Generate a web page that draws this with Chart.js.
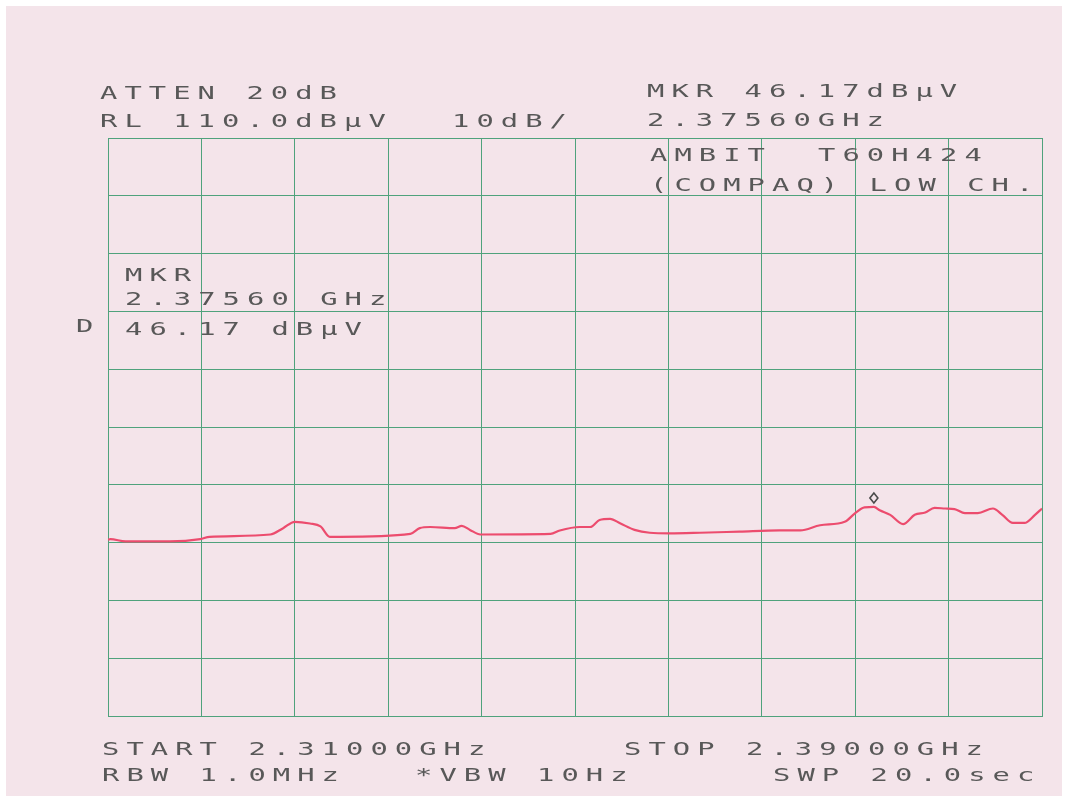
<!DOCTYPE html>
<html>
<head>
<meta charset="utf-8">
<script src="https://cdn.jsdelivr.net/npm/chart.js@4/dist/chart.umd.min.js"></script>
<style>
  html, body { margin: 0; padding: 0; background: #ffffff; }
  #wrap { width: 1068px; height: 801px; position: relative; }
</style>
</head>
<body>
<div id="wrap"><canvas id="sa"></canvas></div>
<script>
// spectrum analyser sweep, 2.31 - 2.39 GHz, level in dBuV
const freqMHz = [2310, 2310.2, 2311.5, 2315.3, 2317.9, 2318.7, 2323.9, 2325.0, 2326.0, 2327.3,
  2328.2, 2329.0, 2329.9, 2335.9, 2336.7, 2337.6, 2339.7, 2340.3, 2341.0, 2341.9,
  2347.9, 2348.7, 2350.4, 2351.3, 2352.1, 2353.0, 2353.9, 2355.1, 2356.4, 2358.1,
  2360.7, 2364.1, 2367.5, 2369.3, 2371.0, 2373.1, 2374.0, 2374.8, 2375.6, 2376.1,
  2377.0, 2378.1, 2379.1, 2380.0, 2380.8, 2381.7, 2382.5, 2383.4, 2384.5, 2385.8,
  2386.6, 2387.5, 2388.5, 2389.4, 2390];
const levelDb = [40.5, 40.6, 40.2, 40.2, 40.6, 41.0, 41.4, 42.5, 43.6, 43.3,
  42.8, 41.0, 41.0, 41.5, 42.5, 42.7, 42.5, 42.9, 42.2, 41.4,
  41.5, 42.1, 42.7, 42.7, 43.9, 44.1, 43.3, 42.2, 41.7, 41.6,
  41.7, 41.9, 42.1, 42.1, 43.0, 43.6, 45.1, 46.1, 46.17, 45.6,
  44.8, 43.2, 44.8, 45.2, 46.0, 45.9, 45.8, 45.1, 45.1, 45.9,
  44.8, 43.4, 43.4, 44.8, 45.9];

const startMHz = 2310, stopMHz = 2390;
const refLevel = 110, dbPerDiv = 10, bottomLevel = 10;
const markerMHz = 2375.6, markerDb = 46.17;

// plotter annotations: [text, x, baseline]
const labels = [
  ['ATTEN 20dB', 100, 99],
  ['RL 110.0dBµV', 100, 127],
  ['10dB/', 452, 127],
  ['MKR 46.17dBµV', 647, 97],
  ['2.37560GHz', 647, 126],
  ['AMBIT', 650, 161],
  ['T60H424', 818, 161],
  ['(COMPAQ) LOW CH.', 650, 191],
  ['MKR', 125, 281],
  ['2.37560 GHz', 125, 305],
  ['46.17 dBµV', 125, 335],
  ['D', 76, 332],
  ['START 2.31000GHz', 102, 755],
  ['STOP 2.39000GHz', 624, 755],
  ['RBW 1.0MHz', 102, 781],
  ['*VBW 10Hz', 415, 781],
  ['SWP 20.0sec', 773, 781]
];

const pts = freqMHz.map((f, i) => ({x: f, y: levelDb[i]}));

function plotText(ctx, str, x, y) {
  // fixed pitch, wide plotter lettering
  const pitch = 24.4;
  for (let i = 0; i < str.length; i++) {
    ctx.save();
    ctx.translate(x + i * pitch, y);
    ctx.scale(1.6, 1);
    ctx.fillText(str[i], 0, 0);
    ctx.restore();
  }
}

const paper = {
  id: 'paper',
  beforeDraw(chart) {
    const c = chart.ctx;
    c.save();
    c.fillStyle = '#ffffff';
    c.fillRect(0, 0, chart.width, chart.height);
    c.fillStyle = '#f4e4ea';
    c.fillRect(6, 6, chart.width - 12, chart.height - 11);
    c.restore();
  },
  afterDatasetsDraw(chart) {
    const c = chart.ctx;
    const xs = chart.scales.x, ys = chart.scales.y;
    // marker diamond just above the trace point
    const mx = xs.getPixelForValue(markerMHz), my = ys.getPixelForValue(markerDb) - 9;
    c.save();
    c.strokeStyle = '#4a4a4a';
    c.lineWidth = 1.6;
    c.beginPath();
    c.moveTo(mx, my - 5); c.lineTo(mx + 4, my); c.lineTo(mx, my + 5); c.lineTo(mx - 4, my); c.closePath();
    c.stroke();

    c.fillStyle = '#585858';
    c.font = '18px "DejaVu Sans Mono"';
    c.textBaseline = 'alphabetic';
    labels.forEach(l => plotText(c, l[0], l[1], l[2]));
    c.restore();
  }
};

new Chart(document.getElementById('sa'), {
  type: 'line',
  data: {
    datasets: [{
      data: pts,
      borderColor: '#ec4c6e',
      borderWidth: 2.2,
      pointRadius: 0,
      cubicInterpolationMode: 'monotone',
      fill: false
    }]
  },
  options: {
    responsive: true,
    maintainAspectRatio: false,
    animation: false,
    layout: {padding: {left: 108, right: 26, top: 138, bottom: 85}},
    plugins: {legend: {display: false}, tooltip: {enabled: false}},
    scales: {
      x: {
        type: 'linear', min: startMHz, max: stopMHz,
        ticks: {display: false, stepSize: (stopMHz - startMHz) / 10},
        grid: {color: '#4fa27c', lineWidth: 1, drawTicks: false},
        border: {color: '#4fa27c', width: 1}
      },
      y: {
        min: bottomLevel, max: refLevel,
        ticks: {display: false, stepSize: dbPerDiv},
        grid: {color: '#4fa27c', lineWidth: 1, drawTicks: false},
        border: {color: '#4fa27c', width: 1}
      }
    }
  },
  plugins: [paper]
});
</script>
</body>
</html>
